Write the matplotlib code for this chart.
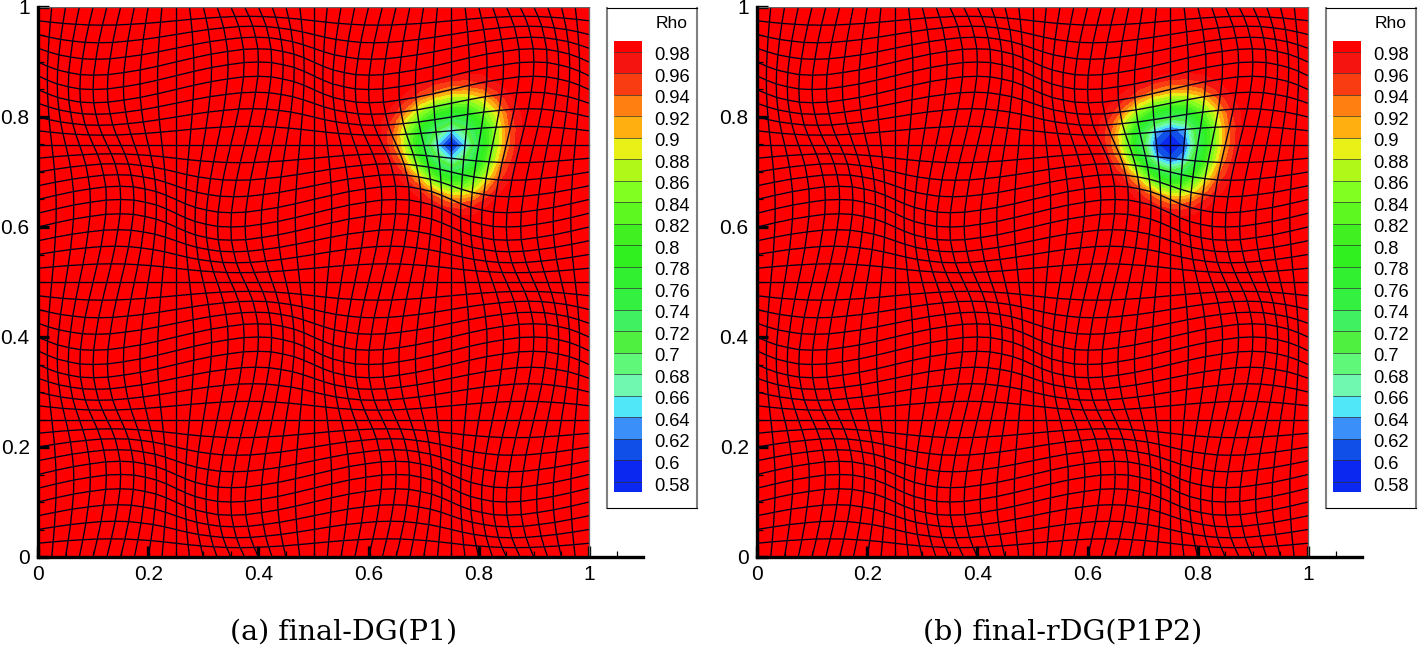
import numpy as np
import matplotlib
matplotlib.use("Agg")
import matplotlib.pyplot as plt
from matplotlib.transforms import ScaledTranslation

plt.rcParams['font.family'] = ['Liberation Sans', 'DejaVu Sans']

# Rho levels and legend labels
rho_edges = [0.56, 0.58, 0.60, 0.62, 0.64, 0.66, 0.68, 0.70, 0.72, 0.74, 0.76, 0.78,
             0.80, 0.82, 0.84, 0.86, 0.88, 0.90, 0.92, 0.94, 0.96, 0.98, 1.01]
legend_levels = [0.98, 0.96, 0.94, 0.92, 0.90, 0.88, 0.86, 0.84, 0.82, 0.80, 0.78,
                 0.76, 0.74, 0.72, 0.70, 0.68, 0.66, 0.64, 0.62, 0.60, 0.58]
legend_labels = ['0.98', '0.96', '0.94', '0.92', '0.9', '0.88', '0.86', '0.84', '0.82', '0.8', '0.78',
                 '0.76', '0.74', '0.72', '0.7', '0.68', '0.66', '0.64', '0.62', '0.6', '0.58']
band_colors = ['#0a28f0', '#0a28f0', '#1050e8', '#3a90f8', '#50e8f8', '#70f8b0', '#60f878',
               '#50f040', '#40f060', '#34f040', '#30f030', '#30f020', '#40f020', '#5cf820',
               '#80ff20', '#b0f818', '#e8f018', '#ffb010', '#ff8010', '#fa3c12', '#f5140f', '#ff0000']

x_ticks = [0, 0.2, 0.4, 0.6, 0.8, 1]
x_labels = ['0', '0.2', '0.4', '0.6', '0.8', '1']

# Mesh line shift at each of the 41 nodes (peak about 0.025)
mesh_shift = [0, 0.008, 0.015, 0.020, 0.024, 0.025, 0.024, 0.020, 0.015, 0.008,
              0, -0.008, -0.015, -0.020, -0.024, -0.025, -0.024, -0.020, -0.015, -0.008,
              0, 0.008, 0.015, 0.020, 0.024, 0.025, 0.024, 0.020, 0.015, 0.008,
              0, -0.008, -0.015, -0.020, -0.024, -0.025, -0.024, -0.020, -0.015, -0.008, 0]

# Rho near the vortex core, one quadrant in mesh nodes from the centre (0.75, 0.75)
rho_dg = [[0.575, 0.645, 0.745, 0.840, 0.925, 0.978, 0.995, 0.995],
          [0.645, 0.700, 0.765, 0.850, 0.935, 0.980, 0.995, 0.995],
          [0.745, 0.765, 0.825, 0.885, 0.955, 0.985, 0.995, 0.995],
          [0.840, 0.850, 0.885, 0.940, 0.978, 0.992, 0.995, 0.995],
          [0.925, 0.935, 0.955, 0.978, 0.990, 0.995, 0.995, 0.995],
          [0.978, 0.980, 0.985, 0.992, 0.995, 0.995, 0.995, 0.995],
          [0.995, 0.995, 0.995, 0.995, 0.995, 0.995, 0.995, 0.995],
          [0.995, 0.995, 0.995, 0.995, 0.995, 0.995, 0.995, 0.995]]
rho_rdg = [[0.575, 0.605, 0.715, 0.830, 0.920, 0.975, 0.995, 0.995],
           [0.605, 0.635, 0.740, 0.840, 0.930, 0.978, 0.995, 0.995],
           [0.715, 0.740, 0.810, 0.880, 0.950, 0.984, 0.995, 0.995],
           [0.830, 0.840, 0.880, 0.935, 0.975, 0.992, 0.995, 0.995],
           [0.920, 0.930, 0.950, 0.975, 0.990, 0.995, 0.995, 0.995],
           [0.975, 0.978, 0.984, 0.992, 0.995, 0.995, 0.995, 0.995],
           [0.995, 0.995, 0.995, 0.995, 0.995, 0.995, 0.995, 0.995],
           [0.995, 0.995, 0.995, 0.995, 0.995, 0.995, 0.995, 0.995]]

W, H = 1418, 650
fig = plt.figure(figsize=(W / 100, H / 100), dpi=100)


def box(left, top, right, bottom):
    return [left / W, 1 - bottom / H, (right - left) / W, (bottom - top) / H]


# Nodes of the mesh
shift = np.array(mesh_shift)
nominal = np.arange(41) / 40
X = nominal[None, :] + np.outer(shift, shift) / 0.025
Y = nominal[:, None] + np.outer(shift, shift) / 0.025
# the contours only follow the mesh about half way
X_field = nominal[None, :] + 0.5 * np.outer(shift, shift) / 0.025
Y_field = nominal[:, None] + 0.5 * np.outer(shift, shift) / 0.025


def panel(x0, quad, caption, caption_x):
    ax = fig.add_axes(box(x0, 7, x0 + 605, 557))
    ax.set_xlim(0, 605 / 551)
    ax.set_ylim(0, 1)

    # field on the mesh
    Z = np.full((41, 41), 0.995)
    idx = np.abs(np.arange(-7, 8))
    Z[23:38, 23:38] = np.array(quad)[np.ix_(idx, idx)]
    ax.contourf(X_field, Y_field, Z, levels=rho_edges, colors=band_colors)

    for i in range(41):
        c = '#666666' if i in (0, 40) else '#00001a'
        ax.plot(X[:, i], Y[:, i], color=c, lw=0.95, zorder=3)
        ax.plot(X[i, :], Y[i, :], color=c, lw=0.95, zorder=3)

    for s in ['top', 'right']:
        ax.spines[s].set_visible(False)
    for s in ['left', 'bottom']:
        ax.spines[s].set_linewidth(2.4)
        ax.spines[s].set_zorder(5)
    ax.set_xticks(x_ticks, x_labels)
    ax.set_yticks(x_ticks, x_labels)
    ax.set_xticks(np.arange(0.05, 1.06, 0.05)[[k for k in range(21) if (k + 1) % 4 != 0]], minor=True)
    ax.set_yticks(np.arange(0.05, 1.0, 0.05)[[k for k in range(19) if (k + 1) % 4 != 0]], minor=True)
    ax.tick_params(which='major', direction='in', length=8, width=2.4, labelsize=15, pad=6, zorder=6)
    ax.tick_params(which='minor', direction='in', length=4.5, width=0.9, zorder=6)

    # legend frame
    frame = fig.add_axes(box(x0 + 569, 8, x0 + 659, 508))
    frame.set_xticks([])
    frame.set_yticks([])
    for s in ['left', 'right']:
        frame.spines[s].set_color('#808080')
        frame.spines[s].set_linewidth(1.5)
    for s in ['top', 'bottom']:
        frame.spines[s].set_linewidth(0.8)
    frame.text(0.72, 0.97, 'Rho', ha='center', va='center', fontsize=12.6, transform=frame.transAxes)

    # colour bar
    bar = fig.add_axes(box(x0 + 576, 41, x0 + 604, 492))
    bar.pcolormesh([0, 1], rho_edges, np.arange(22)[:, None], cmap=matplotlib.colors.ListedColormap(band_colors))
    bar.hlines(legend_levels, 0, 1, colors='#303030', lw=0.7, alpha=0.7)
    bar.set_xlim(0, 1)
    bar.set_ylim(0.5707, 0.9902)
    bar.set_xticks([])
    bar.yaxis.tick_right()
    bar.set_yticks(legend_levels, legend_labels)
    bar.tick_params(axis='y', length=0, labelsize=13.2, pad=9)
    offset = ScaledTranslation(0, -2 / 100, fig.dpi_scale_trans)
    for label in bar.get_yticklabels():
        label.set_transform(label.get_transform() + offset)
    for s in bar.spines.values():
        s.set_visible(False)

    fig.text(caption_x / W, 1 - 632 / H, caption, ha='center', va='center', fontsize=20.5,
             family=['DejaVu Serif'])


panel(38, rho_dg, '(a) final-DG(P1)', 344)
panel(757, rho_rdg, '(b) final-rDG(P1P2)', 1063)

fig.savefig('out.png', dpi=100)
